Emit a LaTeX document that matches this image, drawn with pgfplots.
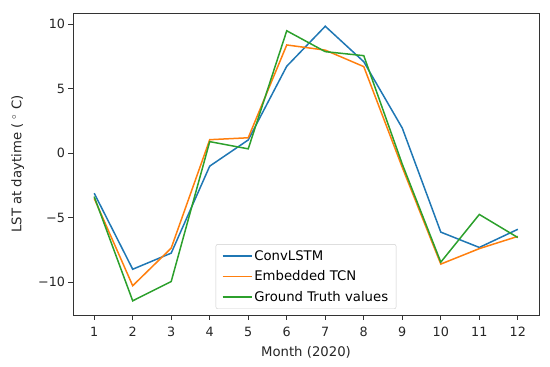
\documentclass[border=0pt]{standalone}
\usepackage{fontspec}
\setmainfont{DejaVu Sans}
\usepackage{pgfplots}
\pgfplotsset{compat=1.18}
\definecolor{tabblue}{HTML}{1F77B4}
\definecolor{taborange}{HTML}{FF7F0E}
\definecolor{tabgreen}{HTML}{2CA02C}
\begin{document}
\begin{tikzpicture}
\begin{axis}[
  scale only axis,
  width=466bp, height=302bp,
  xmin=0.45, xmax=12.55,
  ymin=-12.55, ymax=10.88,
  xtick={1,2,3,4,5,6,7,8,9,10,11,12},
  ytick={-10,-5,0,5,10},
  yticklabels={−10,−5,0,5,10},
  tick align=outside,
  tick pos=left,
  major tick length=4.5bp,
  every tick/.style={black!80, line width=0.8bp},
  axis line style={black!80, line width=0.8bp},
  ticklabel style={font=\fontsize{12.8}{15}\selectfont, text=black!85},
  xticklabel style={yshift=-4bp},
  label style={font=\fontsize{13.3}{16}\selectfont, text=black!85},
  /pgf/number format/assume math mode=true,
  xlabel={Month (2020)},
  ylabel={LST at daytime ( $^\circ$ C)},
  xlabel style={yshift=-3bp},
  ylabel style={yshift=7bp},
  legend style={at={(0.5,0.02)}, anchor=south, draw=black!20, rounded corners=2bp,
    font=\fontsize{13.3}{16}\selectfont, inner xsep=6bp, inner ysep=4bp, row sep=5bp},
  legend cell align=left,
  legend image code/.code={\draw[#1, line width=1.5bp] (0bp,0bp) -- (29bp,0bp);},
]
\addplot[tabblue, line width=1.5bp] coordinates {
(1,-3.1) (2,-9.0) (3,-7.75) (4,-1.0) (5,1.03) (6,6.75) (7,9.85) (8,7.1) (9,1.95) (10,-6.12) (11,-7.31) (12,-5.9)};
\addlegendentry{ConvLSTM}
\addplot[taborange, line width=1.5bp] coordinates {
(1,-3.5) (2,-10.28) (3,-7.36) (4,1.05) (5,1.2) (6,8.4) (7,8.0) (8,6.72) (9,-1.1) (10,-8.6) (11,-7.4) (12,-6.45)};
\addlegendentry{Embedded TCN}
\addplot[tabgreen, line width=1.5bp] coordinates {
(1,-3.36) (2,-11.45) (3,-9.95) (4,0.9) (5,0.34) (6,9.5) (7,7.88) (8,7.57) (9,-0.85) (10,-8.45) (11,-4.75) (12,-6.54)};
\addlegendentry{Ground Truth values}
\end{axis}
\path (current axis.south west) ++(-73bp,-52bp) (current axis.north east) ++(11bp,13bp);
\end{tikzpicture}
\end{document}
